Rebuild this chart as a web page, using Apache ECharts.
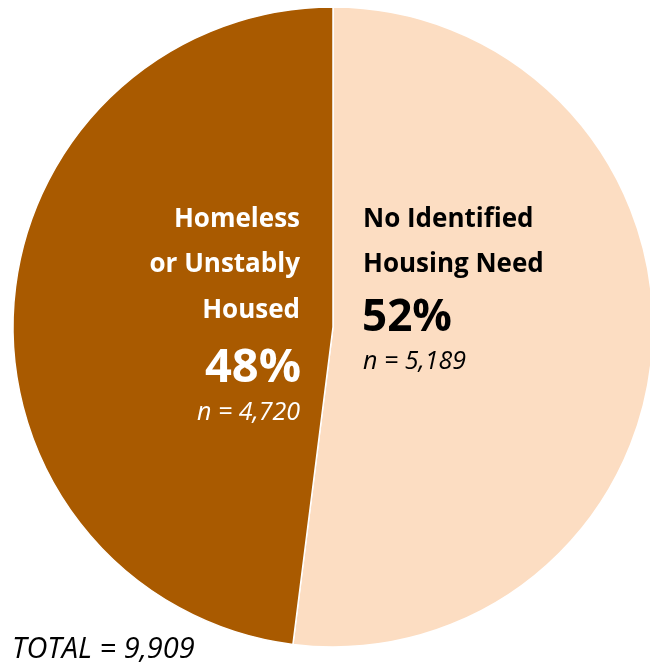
<!DOCTYPE html>
<html><head><meta charset="utf-8">
<script src="https://cdn.jsdelivr.net/npm/echarts@6/dist/echarts.min.js"></script>
<style>html,body{margin:0;padding:0;background:#fff}#c{width:650px;height:665px}</style>
</head><body><div id="c"></div>
<script>
const categories = ['No Identified Housing Need', 'Homeless or Unstably Housed'];
const percents = [52, 48];
const counts = [5189, 4720];
const total = 9909;
const colors = ['#FCDDC2', '#A95A00'];
const leftLines = ['Homeless', 'or Unstably', 'Housed'];
const rightLines = ['No Identified', 'Housing Need'];

const chart = echarts.init(document.getElementById('c'), null, {renderer: 'canvas'});
const F = '"Open Sans", Lato, sans-serif';
const fmt = n => n.toLocaleString('en-US');
const txt = (x, y, text, fill, font, align) => ({type: 'text', z: 100, x: x, y: y,
  style: {text: text, fill: fill, font: font, align: align || 'left', verticalAlign: 'top'}});
const lineY = [207, 252, 298];
chart.setOption({
  animation: false,
  series: [{
    type: 'pie',
    z: 1,
    center: [333, 327],
    radius: 320,
    startAngle: 90,
    clockwise: true,
    label: {show: false},
    labelLine: {show: false},
    itemStyle: {borderColor: '#fff', borderWidth: 1.5},
    emphasis: {disabled: true},
    data: categories.map((c, i) => ({name: c, value: percents[i], itemStyle: {color: colors[i]}}))
  }],
  graphic: {elements: [].concat(
    leftLines.map((t, i) => txt(300, lineY[i], t, '#fff', 'bold 26px ' + F, 'right')),
    [txt(301, 345, percents[1] + '%', '#fff', 'bold 47px ' + F, 'right'),
     txt(300, 400, 'n = ' + fmt(counts[1]), '#fff', 'italic 25px ' + F, 'right')],
    rightLines.map((t, i) => txt(363, lineY[i], t, '#000', 'bold 26px ' + F)),
    [txt(362, 296, percents[0] + '%', '#000', 'bold 44px ' + F),
     txt(363, 349, 'n = ' + fmt(counts[0]), '#000', 'italic 25px ' + F),
     txt(12, 635, 'TOTAL = ' + fmt(total), '#000', 'italic 29px ' + F)]
  )}
});
</script></body></html>
